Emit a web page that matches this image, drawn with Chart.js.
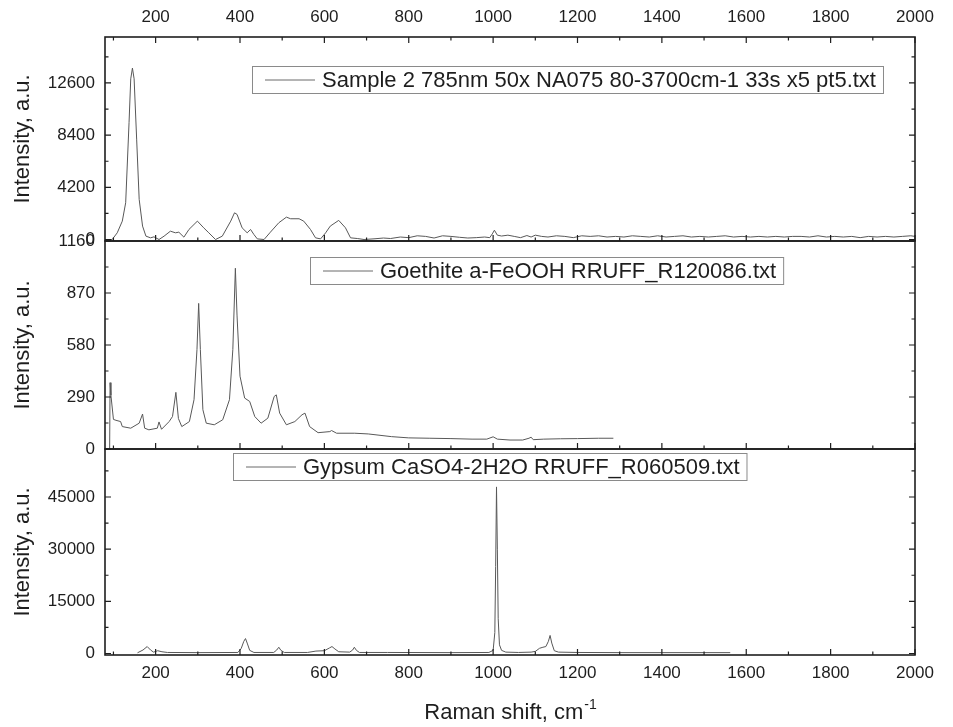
<!DOCTYPE html>
<html>
<head>
<meta charset="utf-8">
<script src="https://cdn.jsdelivr.net/npm/chart.js@4.4.1/dist/chart.umd.min.js"></script>
<style>
html,body{margin:0;padding:0;background:#fff;}
#wrap{position:relative;width:953px;height:727px;}
</style>
</head>
<body>
<div id="wrap"><canvas id="raman"></canvas></div>
<script>
// Raman spectra, three stacked panels sharing one x axis
const xTicks = [200, 400, 600, 800, 1000, 1200, 1400, 1600, 1800, 2000];

const sampleLabel = "Sample 2 785nm 50x NA075 80-3700cm-1 33s x5 pt5.txt";
const sampleTicks = [0, 4200, 8400, 12600];
const sampleX = [90, 97, 109, 121, 129, 137, 141, 145, 149, 155, 161, 169, 177, 188, 196, 208, 220, 235, 247, 255, 267, 279, 299, 314, 326, 342, 358, 378, 387, 393, 405, 417, 425, 433, 441, 457, 472, 492, 510, 520, 540, 551, 567, 579, 591, 603, 614, 634, 650, 662, 678, 694, 720, 740, 757, 780, 800, 820, 840, 860, 880, 900, 920, 940, 960, 980, 992, 998, 1003, 1010, 1020, 1035, 1050, 1065, 1080, 1090, 1100, 1115, 1130, 1150, 1170, 1190, 1210, 1230, 1250, 1270, 1290, 1310, 1330, 1350, 1370, 1390, 1410, 1430, 1450, 1470, 1490, 1510, 1530, 1550, 1570, 1590, 1610, 1630, 1650, 1670, 1690, 1710, 1730, 1750, 1770, 1790, 1810, 1830, 1850, 1870, 1890, 1910, 1930, 1950, 1970, 1990, 2000];
const sampleY = [0, 0, 540, 1480, 2960, 9430, 12930, 13800, 12930, 8080, 3230, 1080, 270, 135, 215, 0, 270, 670, 540, 590, 190, 810, 1480, 940, 540, 0, 270, 1480, 2150, 2020, 940, 540, 810, 400, 50, 0, 590, 1350, 1800, 1670, 1670, 1480, 810, 135, 50, 540, 1080, 1540, 940, 135, 80, 0, 60, 120, 80, 200, 150, 300, 250, 120, 300, 250, 180, 120, 150, 200, 150, 450, 750, 350, 280, 350, 250, 150, 320, 200, 350, 250, 200, 300, 250, 150, 300, 250, 300, 200, 250, 200, 300, 250, 200, 300, 200, 250, 300, 200, 250, 200, 250, 300, 200, 250, 200, 250, 200, 250, 200, 250, 250, 200, 300, 200, 250, 200, 250, 150, 250, 200, 250, 200, 250, 300, 250];

const goethiteLabel = "Goethite a-FeOOH RRUFF_R120086.txt";
const goethiteTicks = [0, 290, 580, 870, 1160];
const goethiteX = [91, 92, 94, 100, 106, 117, 121, 141, 161, 169, 174, 184, 204, 208, 214, 232, 240, 248, 254, 262, 280, 291, 298, 302, 306, 312, 320, 339, 359, 375, 383, 389, 393, 400, 411, 423, 435, 450, 466, 481, 486, 494, 510, 530, 547, 554, 565, 585, 613, 617, 629, 672, 704, 759, 800, 850, 900, 950, 985, 1000, 1010, 1040, 1070, 1085, 1090, 1095, 1120, 1160, 1200, 1250, 1285];
const goethiteY = [0, 370, 300, 165, 160, 153, 125, 116, 144, 195, 116, 107, 116, 151, 110, 153, 181, 316, 170, 125, 153, 275, 555, 812, 555, 219, 144, 135, 163, 275, 555, 1008, 742, 406, 284, 265, 181, 144, 172, 293, 302, 200, 135, 153, 191, 200, 125, 91, 97, 103, 88, 88, 84, 69, 62, 60, 58, 55, 55, 68, 55, 50, 50, 60, 66, 52, 55, 57, 58, 60, 60];

const gypsumLabel = "Gypsum CaSO4-2H2O RRUFF_R060509.txt";
const gypsumTicks = [0, 15000, 30000, 45000];
const gypsumX = [157, 170, 180, 188, 195, 205, 215, 228, 300, 395, 403, 409, 413, 417, 423, 433, 480, 487, 492, 497, 505, 560, 580, 600, 612, 618, 625, 634, 660, 667, 671, 676, 683, 750, 900, 990, 1000, 1004, 1006, 1008, 1010, 1012, 1015, 1020, 1030, 1060, 1090, 1100, 1110, 1118, 1125, 1131, 1135, 1139, 1145, 1155, 1200, 1300, 1400, 1500, 1562];
const gypsumY = [200, 1000, 2000, 1000, 400, 800, 500, 300, 250, 300, 1500, 3500, 4300, 3000, 900, 300, 300, 1000, 1800, 900, 300, 300, 700, 800, 1600, 2000, 1300, 500, 400, 1000, 1800, 900, 300, 300, 250, 300, 900, 6000, 25000, 47900, 30000, 10000, 2500, 900, 400, 300, 400, 600, 1500, 1800, 2000, 3500, 5200, 3000, 800, 400, 300, 250, 250, 250, 250];

const FONT = '"Liberation Sans", Arial, Helvetica, sans-serif';
const INK = "#1e1e1e";

const toPoints = (xs, ys) => xs.map((x, i) => ({x: x, y: ys[i]}));
const setTicks = arr => scale => { scale.ticks = arr.map(v => ({value: v})); };

// legend box position inside each panel (left px, offset from panel top)
const panels = [
    {id: "y1", ticks: sampleTicks, legendX: 252, legendDy: 29},
    {id: "y2", ticks: goethiteTicks, legendX: 310, legendDy: 16},
    {id: "y3", ticks: gypsumTicks, legendX: 233, legendDy: 4},
];

const panelDecor = {
    id: "panelDecor",
    afterDraw(chart) {
        const ctx = chart.ctx;
        const {left, right} = chart.chartArea;
        const xs = chart.scales.x;
        ctx.save();
        ctx.strokeStyle = INK;
        panels.forEach((p, i) => {
            const s = chart.scales[p.id];
            const top = s.top, bottom = s.bottom;
            ctx.lineWidth = 1.2;
            ctx.beginPath();
            // y ticks, inward on both sides
            const step = p.ticks[1] - p.ticks[0];
            p.ticks.forEach(v => {
                const y = s.getPixelForValue(v);
                ctx.moveTo(left, y); ctx.lineTo(left + 6, y);
                ctx.moveTo(right, y); ctx.lineTo(right - 6, y);
            });
            for (let v = p.ticks[0] + step / 2; v < s.max; v += step) {
                const y = s.getPixelForValue(v);
                ctx.moveTo(left, y); ctx.lineTo(left + 3.5, y);
                ctx.moveTo(right, y); ctx.lineTo(right - 3.5, y);
            }
            // x ticks along panel bottom (and top of first panel)
            for (let v = 100; v <= 2000; v += 100) {
                const x = xs.getPixelForValue(v);
                const len = v % 200 === 0 ? 6 : 3.5;
                ctx.moveTo(x, bottom); ctx.lineTo(x, bottom - len);
                if (i === 0) { ctx.moveTo(x, top); ctx.lineTo(x, top + len); }
            }
            ctx.stroke();
            ctx.lineWidth = 1.6;
            ctx.strokeRect(left, top, right - left, bottom - top);

            // legend
            const ds = chart.data.datasets[i];
            ctx.font = "22px " + FONT;
            const tw = ctx.measureText(ds.label).width;
            const bx = p.legendX, by = top + p.legendDy, bh = 27;
            const bw = 13 + 50 + 7 + tw + 7;
            ctx.fillStyle = "#fff";
            ctx.fillRect(bx, by, bw, bh);
            ctx.lineWidth = 1;
            ctx.strokeStyle = "#8a8a8a";
            ctx.strokeRect(bx + 0.5, by + 0.5, bw, bh);
            ctx.strokeStyle = "#6a6a6a";
            ctx.beginPath();
            ctx.moveTo(bx + 13, by + bh / 2 + 0.5);
            ctx.lineTo(bx + 63, by + bh / 2 + 0.5);
            ctx.stroke();
            ctx.fillStyle = INK;
            ctx.textBaseline = "middle";
            ctx.fillText(ds.label, bx + 70, by + bh / 2 + 1);
            ctx.strokeStyle = INK;
        });

        // x title with superscript
        const main = "Raman shift, cm", sup = "-1";
        ctx.font = "22px " + FONT;
        const w1 = ctx.measureText(main).width;
        ctx.font = "14px " + FONT;
        const w2 = ctx.measureText(sup).width;
        const sx = (left + right) / 2 - (w1 + w2) / 2;
        ctx.fillStyle = INK;
        ctx.textBaseline = "alphabetic";
        ctx.font = "22px " + FONT;
        ctx.fillText(main, sx, 719);
        ctx.font = "14px " + FONT;
        ctx.fillText(sup, sx + w1 + 1, 709);
        ctx.restore();
    },
};

const tickFont = {family: FONT, size: 17};
const plain = v => String(v);
const xAxis = (pos, h, pad) => ({
    type: "linear",
    position: pos,
    min: 80,
    max: 2000,
    afterBuildTicks: setTicks(xTicks),
    afterFit: s => { s.height = h; },
    grid: {display: false, drawTicks: false},
    border: {display: false},
    ticks: {font: tickFont, color: INK, padding: pad, maxRotation: 0, autoSkip: false, callback: plain},
});
const yAxis = (weight, min, max, arr) => ({
    type: "linear",
    position: "left",
    stack: "panels",
    stackWeight: weight,
    min: min,
    max: max,
    afterBuildTicks: setTicks(arr),
    afterFit: s => { s.width = 105; },
    grid: {display: false, drawTicks: false},
    border: {display: false},
    ticks: {font: tickFont, color: INK, padding: 10, autoSkip: false, callback: plain},
    title: {display: true, text: "Intensity, a.u.", color: INK, font: {family: FONT, size: 22}, padding: {top: 10, bottom: 0}},
});

const line = (label, xs, ys, yid) => ({
    label: label,
    data: toPoints(xs, ys),
    xAxisID: "x",
    yAxisID: yid,
    borderColor: "#585858",
    borderWidth: 1,
    pointRadius: 0,
    tension: 0,
    fill: false,
});

new Chart(document.getElementById("raman"), {
    type: "line",
    data: {
        datasets: [
            line(sampleLabel, sampleX, sampleY, "y1"),
            line(goethiteLabel, goethiteX, goethiteY, "y2"),
            line(gypsumLabel, gypsumX, gypsumY, "y3"),
        ],
    },
    options: {
        responsive: true,
        maintainAspectRatio: false,
        animation: false,
        layout: {padding: {left: 0, right: 38, top: 0, bottom: 42}},
        plugins: {legend: {display: false}, tooltip: {enabled: false}},
        // stacked left axes: the last one listed ends up on top
        scales: {
            x: xAxis("bottom", 30, 8),
            xTop: xAxis("top", 37, 9),
            y3: yAxis(206, -430, 58800, gypsumTicks),
            y2: yAxis(208, 0, 1160, goethiteTicks),
            y1: yAxis(204, -120, 16300, sampleTicks),
        },
    },
    plugins: [panelDecor],
});
</script>
</body>
</html>
